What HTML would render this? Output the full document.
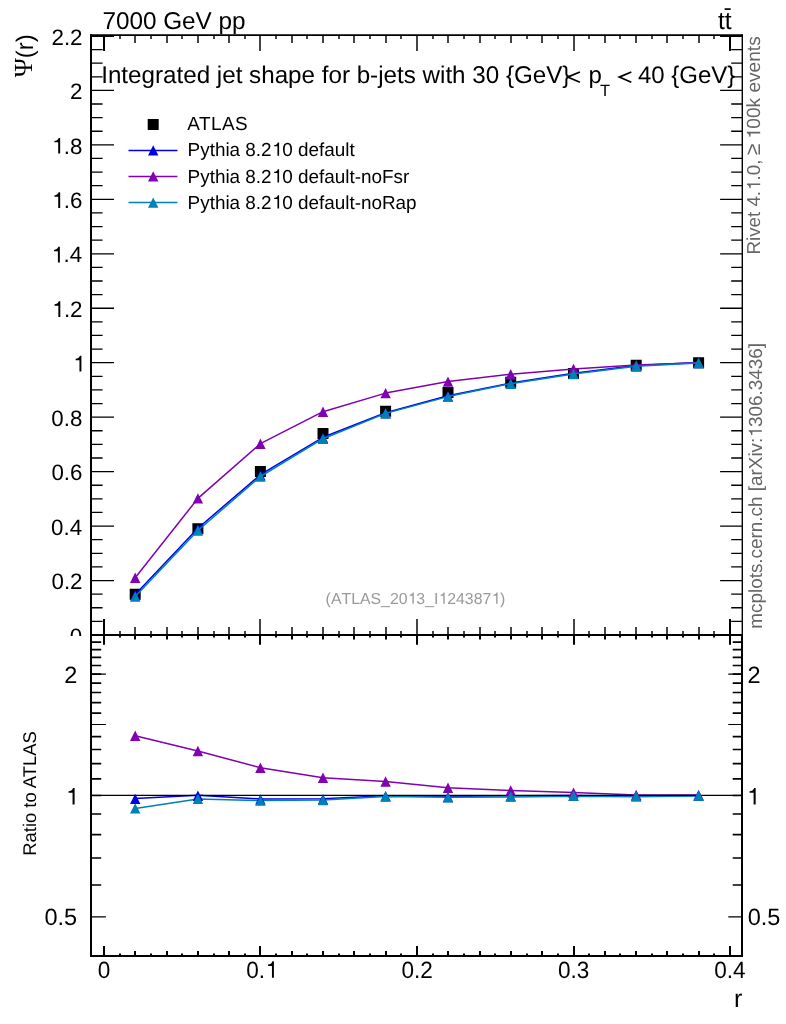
<!DOCTYPE html>
<html><head><meta charset="utf-8"><title>Integrated jet shape</title>
<style>
html,body{margin:0;padding:0;background:#fff;}
body{width:786px;height:1024px;overflow:hidden;}
svg{display:block;will-change:transform;}
text{font-family:"Liberation Sans",sans-serif;fill:#000;text-rendering:geometricPrecision;}
.ser{font-family:"Liberation Serif",serif;}
</style></head><body>
<svg width="786" height="1024" viewBox="0 0 786 1024">
<rect x="0" y="0" width="786" height="1024" fill="#ffffff"/>
<path d="M91.00 635.00h23.0M742.00 635.00h-21.9M91.00 621.38h11.6M742.00 621.38h-10.8M91.00 607.77h11.6M742.00 607.77h-10.8M91.00 594.15h11.6M742.00 594.15h-10.8M91.00 580.54h23.0M742.00 580.54h-21.9M91.00 566.92h11.6M742.00 566.92h-10.8M91.00 553.31h11.6M742.00 553.31h-10.8M91.00 539.69h11.6M742.00 539.69h-10.8M91.00 526.08h23.0M742.00 526.08h-21.9M91.00 512.47h11.6M742.00 512.47h-10.8M91.00 498.85h11.6M742.00 498.85h-10.8M91.00 485.24h11.6M742.00 485.24h-10.8M91.00 471.62h23.0M742.00 471.62h-21.9M91.00 458.00h11.6M742.00 458.00h-10.8M91.00 444.39h11.6M742.00 444.39h-10.8M91.00 430.77h11.6M742.00 430.77h-10.8M91.00 417.16h23.0M742.00 417.16h-21.9M91.00 403.54h11.6M742.00 403.54h-10.8M91.00 389.93h11.6M742.00 389.93h-10.8M91.00 376.31h11.6M742.00 376.31h-10.8M91.00 362.70h23.0M742.00 362.70h-21.9M91.00 349.08h11.6M742.00 349.08h-10.8M91.00 335.47h11.6M742.00 335.47h-10.8M91.00 321.85h11.6M742.00 321.85h-10.8M91.00 308.24h23.0M742.00 308.24h-21.9M91.00 294.62h11.6M742.00 294.62h-10.8M91.00 281.01h11.6M742.00 281.01h-10.8M91.00 267.39h11.6M742.00 267.39h-10.8M91.00 253.78h23.0M742.00 253.78h-21.9M91.00 240.16h11.6M742.00 240.16h-10.8M91.00 226.55h11.6M742.00 226.55h-10.8M91.00 212.93h11.6M742.00 212.93h-10.8M91.00 199.32h23.0M742.00 199.32h-21.9M91.00 185.70h11.6M742.00 185.70h-10.8M91.00 172.09h11.6M742.00 172.09h-10.8M91.00 158.47h11.6M742.00 158.47h-10.8M91.00 144.86h23.0M742.00 144.86h-21.9M91.00 131.24h11.6M742.00 131.24h-10.8M91.00 117.63h11.6M742.00 117.63h-10.8M91.00 104.01h11.6M742.00 104.01h-10.8M91.00 90.40h23.0M742.00 90.40h-21.9M91.00 76.78h11.6M742.00 76.78h-10.8M91.00 63.17h11.6M742.00 63.17h-10.8M91.00 49.55h11.6M742.00 49.55h-10.8M91.00 36.25h23.0M742.00 36.25h-21.9" stroke="#000" stroke-width="1.3" fill="none" class="ax"/>
<path d="M91.00 884.98h10.2M742.00 884.98h-9.3M91.00 857.98h10.2M742.00 857.98h-9.3M91.00 834.59h10.2M742.00 834.59h-9.3M91.00 813.95h10.2M742.00 813.95h-9.3M91.00 795.50h10.2M742.00 795.50h-9.3M91.00 778.80h10.2M742.00 778.80h-9.3M91.00 763.56h10.2M742.00 763.56h-9.3M91.00 749.54h10.2M742.00 749.54h-9.3M91.00 736.56h10.2M742.00 736.56h-9.3M91.00 713.17h10.2M742.00 713.17h-9.3M91.00 702.55h10.2M742.00 702.55h-9.3M91.00 692.54h10.2M742.00 692.54h-9.3M91.00 683.07h10.2M742.00 683.07h-9.3M91.00 674.08h10.2M742.00 674.08h-9.3M91.00 665.54h10.2M742.00 665.54h-9.3M91.00 657.39h10.2M742.00 657.39h-9.3M91.00 649.60h10.2M742.00 649.60h-9.3M91.00 642.15h10.2M742.00 642.15h-9.3" stroke="#000" stroke-width="1.65" fill="none" class="ax"/>
<path d="M91.00 916.91h14.9M742.00 916.91h-13.7M91.00 795.50h14.9M742.00 795.50h-13.7M91.00 724.48h14.9M742.00 724.48h-13.7M91.00 674.08h14.9M742.00 674.08h-13.7" stroke="#000" stroke-width="1.2" fill="none" class="ax"/>
<path d="M120 631.0V635.0M120 35.0v4M135 627.0V635.0M135 35.0v8M151 631.0V635.0M151 35.0v4M167 627.0V635.0M167 35.0v8M182 631.0V635.0M182 35.0v4M198 627.0V635.0M198 35.0v8M214 631.0V635.0M214 35.0v4M229 627.0V635.0M229 35.0v8M245 631.0V635.0M245 35.0v4M260 619.0V635.0M260 35.0v16M276 631.0V635.0M276 35.0v4M292 627.0V635.0M292 35.0v8M307 631.0V635.0M307 35.0v4M323 627.0V635.0M323 35.0v8M339 631.0V635.0M339 35.0v4M354 627.0V635.0M354 35.0v8M370 631.0V635.0M370 35.0v4M386 627.0V635.0M386 35.0v8M401 631.0V635.0M401 35.0v4M417 619.0V635.0M417 35.0v16M433 631.0V635.0M433 35.0v4M448 627.0V635.0M448 35.0v8M464 631.0V635.0M464 35.0v4M480 627.0V635.0M480 35.0v8M495 631.0V635.0M495 35.0v4M511 627.0V635.0M511 35.0v8M527 631.0V635.0M527 35.0v4M542 627.0V635.0M542 35.0v8M558 631.0V635.0M558 35.0v4M574 619.0V635.0M574 35.0v16M589 631.0V635.0M589 35.0v4M605 627.0V635.0M605 35.0v8M620 631.0V635.0M620 35.0v4M636 627.0V635.0M636 35.0v8M652 631.0V635.0M652 35.0v4M667 627.0V635.0M667 35.0v8M683 631.0V635.0M683 35.0v4M699 627.0V635.0M699 35.0v8M714 631.0V635.0M714 35.0v4" stroke="#000" stroke-width="1.45" fill="none" class="ax"/>
<path d="M104 619.0V635.0M104 35.0v16M104 635.0v9.8M104 956.0v-10M120 635.0v2.5M120 956.0v-2.5M135 635.0v4.5M135 956.0v-5M151 635.0v2.5M151 956.0v-2.5M167 635.0v4.5M167 956.0v-5M182 635.0v2.5M182 956.0v-2.5M198 635.0v4.5M198 956.0v-5M214 635.0v2.5M214 956.0v-2.5M229 635.0v4.5M229 956.0v-5M245 635.0v2.5M245 956.0v-2.5M260 635.0v9.8M260 956.0v-10M276 635.0v2.5M276 956.0v-2.5M292 635.0v4.5M292 956.0v-5M307 635.0v2.5M307 956.0v-2.5M323 635.0v4.5M323 956.0v-5M339 635.0v2.5M339 956.0v-2.5M354 635.0v4.5M354 956.0v-5M370 635.0v2.5M370 956.0v-2.5M386 635.0v4.5M386 956.0v-5M401 635.0v2.5M401 956.0v-2.5M417 635.0v9.8M417 956.0v-10M433 635.0v2.5M433 956.0v-2.5M448 635.0v4.5M448 956.0v-5M464 635.0v2.5M464 956.0v-2.5M480 635.0v4.5M480 956.0v-5M495 635.0v2.5M495 956.0v-2.5M511 635.0v4.5M511 956.0v-5M527 635.0v2.5M527 956.0v-2.5M542 635.0v4.5M542 956.0v-5M558 635.0v2.5M558 956.0v-2.5M574 635.0v9.8M574 956.0v-10M589 635.0v2.5M589 956.0v-2.5M605 635.0v4.5M605 956.0v-5M620 635.0v2.5M620 956.0v-2.5M636 635.0v4.5M636 956.0v-5M652 635.0v2.5M652 956.0v-2.5M667 635.0v4.5M667 956.0v-5M683 635.0v2.5M683 956.0v-2.5M699 635.0v4.5M699 956.0v-5M714 635.0v2.5M714 956.0v-2.5M730 619.0V635.0M730 35.0v16M730 635.0v9.8M730 956.0v-10" stroke="#000" stroke-width="2.0" fill="none" class="ax"/>
<path d="M129.7 588.8h11.0v11.0h-11.0ZM192.4 523.2h11.0v11.0h-11.0ZM254.9 465.9h11.0v11.0h-11.0ZM317.5 428.0h11.0v11.0h-11.0ZM380.1 405.8h11.0v11.0h-11.0ZM442.5 386.9h11.0v11.0h-11.0ZM505.2 376.7h11.0v11.0h-11.0ZM568.0 368.1h11.0v11.0h-11.0ZM630.7 359.7h11.0v11.0h-11.0ZM693.1 357.2h11.0v11.0h-11.0Z" fill="#000"/>
<polyline points="135.2,594.4 197.9,528.3 260.4,474.7 323.0,437.3 385.6,412.7 448.0,395.7 510.7,383.0 573.5,373.3 636.2,365.6 698.6,362.4" fill="none" stroke="#0000e1" stroke-width="1.5" stroke-linejoin="round"/>
<path d="M130.0 600.2L140.4 600.2L135.2 589.8ZM192.7 534.1L203.1 534.1L197.9 523.7ZM255.2 480.5L265.6 480.5L260.4 470.1ZM317.8 443.1L328.2 443.1L323.0 432.7ZM380.4 418.5L390.8 418.5L385.6 408.1ZM442.8 401.5L453.2 401.5L448.0 391.1ZM505.5 388.8L515.9 388.8L510.7 378.4ZM568.3 379.1L578.7 379.1L573.5 368.7ZM631.0 371.4L641.4 371.4L636.2 361.0ZM693.4 368.2L703.8 368.2L698.6 357.8Z" fill="#0000e1"/>
<polyline points="135.2,577.7 197.9,498.4 260.4,443.7 323.0,411.7 385.6,393.1 448.0,381.6 510.7,374.2 573.5,368.9 636.2,365.0 698.6,362.7" fill="none" stroke="#8000b2" stroke-width="1.5" stroke-linejoin="round"/>
<path d="M130.0 582.9L140.4 582.9L135.2 572.5ZM192.7 503.6L203.1 503.6L197.9 493.2ZM255.2 448.9L265.6 448.9L260.4 438.5ZM317.8 416.9L328.2 416.9L323.0 406.5ZM380.4 398.3L390.8 398.3L385.6 387.9ZM442.8 386.8L453.2 386.8L448.0 376.4ZM505.5 379.4L515.9 379.4L510.7 369.0ZM568.3 374.1L578.7 374.1L573.5 363.7ZM631.0 370.2L641.4 370.2L636.2 359.8ZM693.4 367.9L703.8 367.9L698.6 357.5Z" fill="#8000b2"/>
<polyline points="135.2,596.6 197.9,530.5 260.4,476.5 323.0,438.7 385.6,413.4 448.0,396.6 510.7,383.7 573.5,374.0 636.2,366.3 698.6,363.0" fill="none" stroke="#0080b6" stroke-width="1.5" stroke-linejoin="round"/>
<path d="M130.0 601.8L140.4 601.8L135.2 591.4ZM192.7 535.7L203.1 535.7L197.9 525.3ZM255.2 481.7L265.6 481.7L260.4 471.3ZM317.8 443.9L328.2 443.9L323.0 433.5ZM380.4 418.6L390.8 418.6L385.6 408.2ZM442.8 401.8L453.2 401.8L448.0 391.4ZM505.5 388.9L515.9 388.9L510.7 378.5ZM568.3 379.2L578.7 379.2L573.5 368.8ZM631.0 371.5L641.4 371.5L636.2 361.1ZM693.4 368.2L703.8 368.2L698.6 357.8Z" fill="#0080b6"/>
<polyline points="135.2,798.4 197.9,795.3 260.4,798.9 323.0,798.7 385.6,795.8 448.0,796.5 510.7,795.8 573.5,795.6 636.2,796.1 698.6,795.5" fill="none" stroke="#0000e1" stroke-width="1.5" stroke-linejoin="round"/>
<polyline points="135.2,735.8 197.9,751.0 260.4,767.7 323.0,777.7 385.6,781.5 448.0,787.7 510.7,790.5 573.5,792.6 636.2,794.9 698.6,795.1" fill="none" stroke="#8000b2" stroke-width="1.5" stroke-linejoin="round"/>
<polyline points="135.2,808.4 197.9,798.9 260.4,800.6 323.0,800.1 385.6,796.4 448.0,797.2 510.7,797.0 573.5,796.2 636.2,796.8 698.6,796.1" fill="none" stroke="#0080b6" stroke-width="1.5" stroke-linejoin="round"/>
<path d="M91.0 795.4H742.0" stroke="#000" stroke-width="1.3" fill="none"/>
<path d="M130.0 804.1L140.4 804.1L135.2 793.7ZM192.7 801.0L203.1 801.0L197.9 790.6ZM255.2 804.6L265.6 804.6L260.4 794.2ZM317.8 804.4L328.2 804.4L323.0 794.0ZM380.4 801.5L390.8 801.5L385.6 791.1ZM442.8 802.2L453.2 802.2L448.0 791.8ZM505.5 801.5L515.9 801.5L510.7 791.1ZM568.3 800.8L578.7 800.8L573.5 790.4ZM631.0 801.3L641.4 801.3L636.2 790.9ZM693.4 800.7L703.8 800.7L698.6 790.3Z" fill="#0000e1"/>
<path d="M130.0 741.0L140.4 741.0L135.2 730.6ZM192.7 756.2L203.1 756.2L197.9 745.8ZM255.2 772.9L265.6 772.9L260.4 762.5ZM317.8 782.9L328.2 782.9L323.0 772.5ZM380.4 786.7L390.8 786.7L385.6 776.3ZM442.8 792.9L453.2 792.9L448.0 782.5ZM505.5 795.7L515.9 795.7L510.7 785.3ZM568.3 797.8L578.7 797.8L573.5 787.4ZM631.0 800.1L641.4 800.1L636.2 789.7ZM693.4 800.3L703.8 800.3L698.6 789.9Z" fill="#8000b2"/>
<path d="M130.0 813.6L140.4 813.6L135.2 803.2ZM192.7 804.1L203.1 804.1L197.9 793.7ZM255.2 805.8L265.6 805.8L260.4 795.4ZM317.8 805.3L328.2 805.3L323.0 794.9ZM380.4 801.6L390.8 801.6L385.6 791.2ZM442.8 802.4L453.2 802.4L448.0 792.0ZM505.5 801.6L515.9 801.6L510.7 791.2ZM568.3 800.8L578.7 800.8L573.5 790.4ZM631.0 801.4L641.4 801.4L636.2 791.0ZM693.4 800.7L703.8 800.7L698.6 790.3Z" fill="#0080b6"/>
<path d="M91 34.3V957 M90 635H743 M90 956H743 M742 635V957" stroke="#000" stroke-width="2" fill="none" class="ax"/>
<path d="M90 35.15H743" stroke="#000" stroke-width="1.7" fill="none" class="ax"/>
<path d="M742.3 34.3V635" stroke="#000" stroke-width="1.4" fill="none" class="ax"/>
<rect x="147.7" y="119.0" width="11.0" height="11.0" fill="#000"/>
<path d="M128.5 150.4H177.4" stroke="#0000e1" stroke-width="1.5"/>
<path d="M148.0 155.6L158.39999999999998 155.6L153.2 145.20000000000002Z" fill="#0000e1"/>
<path d="M128.5 176.4H177.4" stroke="#8000b2" stroke-width="1.5"/>
<path d="M148.0 181.6L158.39999999999998 181.6L153.2 171.20000000000002Z" fill="#8000b2"/>
<path d="M128.5 202.6H177.4" stroke="#0080b6" stroke-width="1.5"/>
<path d="M148.0 207.79999999999998L158.39999999999998 207.79999999999998L153.2 197.4Z" fill="#0080b6"/>
<text x="187.3" y="130.0" font-size="18.9" letter-spacing="0.45">ATLAS</text>
<text x="187.60" y="155.80" font-size="18.9" style="fill:#000;font-kerning:none">Pythia 8.2</text>
<path d="M277.46 155.80L277.46 146.26L274.22 146.26L274.22 145.12C275.91 145.03 277.27 144.27 277.87 142.51L279.10 142.51L279.10 155.80Z" fill="#000"/>
<text x="282.16" y="155.80" font-size="18.9" style="fill:#000;font-kerning:none">0 default</text>
<text x="187.60" y="182.50" font-size="18.9" style="fill:#000;font-kerning:none">Pythia 8.2</text>
<path d="M277.46 182.50L277.46 172.96L274.22 172.96L274.22 171.82C275.91 171.73 277.27 170.97 277.87 169.21L279.10 169.21L279.10 182.50Z" fill="#000"/>
<text x="282.16" y="182.50" font-size="18.9" style="fill:#000;font-kerning:none">0 default-noFsr</text>
<text x="187.60" y="208.50" font-size="18.9" style="fill:#000;font-kerning:none">Pythia 8.2</text>
<path d="M277.46 208.50L277.46 198.96L274.22 198.96L274.22 197.82C275.91 197.73 277.27 196.97 277.87 195.21L279.10 195.21L279.10 208.50Z" fill="#000"/>
<text x="282.16" y="208.50" font-size="18.9" style="fill:#000;font-kerning:none">0 default-noRap</text>
<text x="102.4" y="28.6" font-size="24.3">7000 GeV pp</text>
<text x="731.7" y="29.1" font-size="24.6" text-anchor="end">tt</text>
<path d="M724.6 9.1H730.7" stroke="#000" stroke-width="1.7"/>
<text x="101.2" y="82.9" font-size="24.2">Integrated jet shape for b-jets with 30 {GeV}</text>
<path d="M579.9 72.0L567.6 77.1L579.9 82.2M631.3 72.0L619.3 77.1L631.3 82.2" fill="none" stroke="#000" stroke-width="1.7" stroke-linejoin="miter"/>
<text x="588.6" y="82.9" font-size="24">p</text>
<text x="599.9" y="95.6" font-size="16.5">T</text>
<text x="637.9" y="82.9" font-size="24">40 {GeV}</text>
<text x="325.62" y="603.70" font-size="15.85" style="fill:#999999;font-kerning:none">(ATLAS_20</text>
<path d="M412.42 603.70L412.42 595.70L409.71 595.70L409.71 594.74C411.12 594.67 412.26 594.03 412.77 592.56L413.80 592.56L413.80 603.70Z" fill="#999999"/>
<text x="416.37" y="603.70" font-size="15.85" style="fill:#999999;font-kerning:none">3_I</text>
<path d="M443.27 603.70L443.27 595.70L440.56 595.70L440.56 594.74C441.97 594.67 443.11 594.03 443.62 592.56L444.65 592.56L444.65 603.70Z" fill="#999999"/>
<text x="447.22" y="603.70" font-size="15.85" style="fill:#999999;font-kerning:none">24387</text>
<path d="M496.16 603.70L496.16 595.70L493.45 595.70L493.45 594.74C494.86 594.67 496.00 594.03 496.51 592.56L497.54 592.56L497.54 603.70Z" fill="#999999"/>
<text x="500.11" y="603.70" font-size="15.85" style="fill:#999999;font-kerning:none">)</text>
<g transform="translate(760.2 0) rotate(-90)">
<text x="-254.60" y="0.00" font-size="18.8" style="fill:#666666;font-kerning:none">Rivet 4.</text>
<path d="M-185.09 0.00L-185.09 -9.49L-188.31 -9.49L-188.31 -10.62C-186.64 -10.72 -185.28 -11.47 -184.68 -13.22L-183.46 -13.22L-183.46 0.00Z" fill="#666666"/>
<text x="-180.41" y="0.00" font-size="18.8" style="fill:#666666;font-kerning:none">.0,</text>
<text x="-155.2" y="0" font-size="21.2" style="fill:#666666">≥</text>
<path d="M-133.43 0.00L-133.43 -9.65L-136.70 -9.65L-136.70 -10.79C-135.00 -10.89 -133.63 -11.65 -133.01 -13.43L-131.77 -13.43L-131.77 0.00Z" fill="#666666"/>
<text x="-128.68" y="0.00" font-size="19.1" style="fill:#666666;font-kerning:none">00k events</text>
</g>
<g transform="translate(761.9 0) rotate(-90)">
<text x="-628.75" y="0.00" font-size="18.9" style="fill:#666666;font-kerning:none">mcplots.cern.ch [arXiv:</text>
<path d="M-431.79 0.00L-431.79 -9.54L-435.02 -9.54L-435.02 -10.68C-433.34 -10.77 -431.98 -11.53 -431.37 -13.29L-430.15 -13.29L-430.15 0.00Z" fill="#666666"/>
<text x="-427.08" y="0.00" font-size="18.9" style="fill:#666666;font-kerning:none">306.3436]</text>
</g>
<text x="51.52" y="589.24" font-size="22.3">0.2</text>
<text x="51.05" y="534.78" font-size="22.3">0.4</text>
<text x="51.38" y="480.32" font-size="22.3">0.6</text>
<text x="51.36" y="425.86" font-size="22.3">0.8</text>
<path d="M79.46 371.40L79.46 360.14L75.65 360.14L75.65 358.80C77.63 358.69 79.24 357.80 79.95 355.72L81.40 355.72L81.40 371.40Z" fill="#000"/>
<path d="M58.36 316.94L58.36 305.68L54.55 305.68L54.55 304.34C56.54 304.23 58.14 303.34 58.85 301.26L60.30 301.26L60.30 316.94Z" fill="#000"/>
<text x="63.92" y="316.94" font-size="22.3">.2</text>
<path d="M57.90 262.48L57.90 251.22L54.08 251.22L54.08 249.88C56.07 249.77 57.67 248.88 58.39 246.80L59.84 246.80L59.84 262.48Z" fill="#000"/>
<text x="63.45" y="262.48" font-size="22.3">.4</text>
<path d="M58.23 208.02L58.23 196.76L54.42 196.76L54.42 195.42C56.40 195.31 58.01 194.42 58.72 192.34L60.17 192.34L60.17 208.02Z" fill="#000"/>
<text x="63.79" y="208.02" font-size="22.3">.6</text>
<path d="M58.21 153.56L58.21 142.30L54.39 142.30L54.39 140.96C56.38 140.85 57.99 139.96 58.70 137.88L60.15 137.88L60.15 153.56Z" fill="#000"/>
<text x="63.77" y="153.56" font-size="22.3">.8</text>
<text x="70.12" y="99.10" font-size="22.3">2</text>
<text x="51.52" y="44.64" font-size="22.3">2.2</text>
<clipPath id="c0"><rect x="0" y="0" width="90" height="636"/></clipPath>
<g clip-path="url(#c0)">
<text x="69.87" y="643.70" font-size="22.3">0</text>
</g>
<text x="64.21" y="682.68" font-size="23.5">2</text>
<text x="747.43" y="682.68" font-size="23.5">2</text>
<path d="M72.56 804.60L72.56 792.73L68.54 792.73L68.54 791.32C70.63 791.20 72.32 790.26 73.07 788.08L74.60 788.08L74.60 804.60Z" fill="#000"/>
<path d="M753.62 804.60L753.62 792.73L749.60 792.73L749.60 791.32C751.69 791.20 753.38 790.26 754.14 788.08L755.66 788.08L755.66 804.60Z" fill="#000"/>
<text x="44.42" y="924.91" font-size="23.5">0.5</text>
<text x="747.68" y="924.91" font-size="23.5">0.5</text>
<text transform="translate(97.73 977.80) scale(0.96 1)" font-size="23.5">0</text>
<text transform="translate(246.21 977.80) scale(0.96 1)" font-size="23.5">0.</text>
<path d="M271.95 977.80L271.95 965.93L268.09 965.93L268.09 964.52C270.10 964.40 271.72 963.46 272.45 961.28L273.91 961.28L273.91 977.80Z" fill="#000"/>
<text transform="translate(401.44 977.80) scale(0.96 1)" font-size="23.5">0.2</text>
<text transform="translate(557.88 977.80) scale(0.96 1)" font-size="23.5">0.3</text>
<text transform="translate(714.21 977.80) scale(0.96 1)" font-size="23.5">0.4</text>
<text x="742.3" y="1006.6" font-size="25" text-anchor="end">r</text>
<text transform="translate(36.3 793.5) rotate(-90)" font-size="18.4" text-anchor="middle">Ratio to ATLAS</text>
<text transform="translate(32.3 34.2) rotate(-90)" font-size="24" text-anchor="end"><tspan class="ser" font-size="26">Ψ</tspan><tspan dy="1">(r)</tspan></text>
</svg>
</body></html>
